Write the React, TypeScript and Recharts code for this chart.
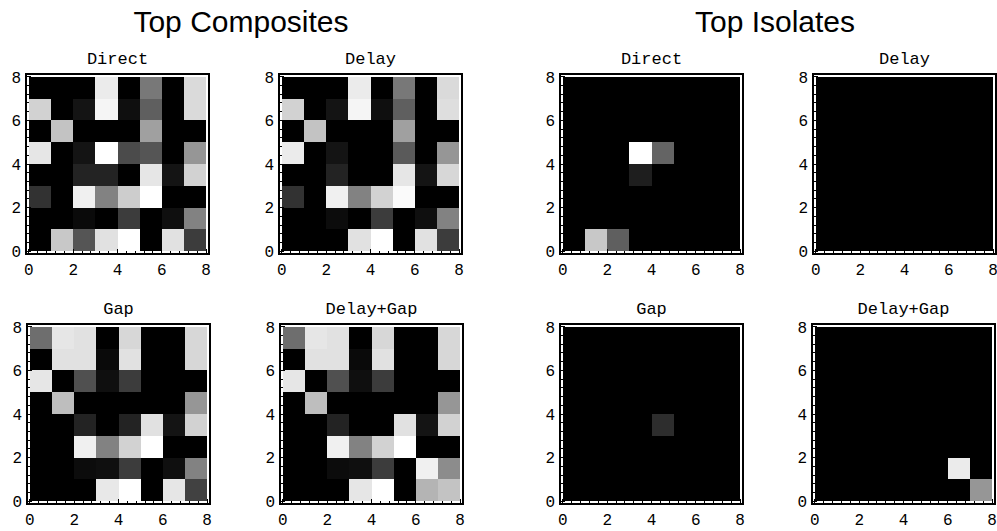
import React from 'react';
import { ScatterChart, Scatter, XAxis, YAxis, ReferenceArea, Label } from 'recharts';

// ---- data: grey levels (0 = black, 255 = white), rows listed from y=7 (top) to y=0 (bottom)
const compositeDirect: number[][] = [
  [0, 0, 0, 235, 0, 120, 0, 218],
  [210, 0, 20, 245, 15, 95, 0, 218],
  [0, 195, 0, 0, 0, 160, 0, 0],
  [230, 0, 20, 255, 75, 85, 0, 150],
  [0, 0, 35, 35, 0, 230, 20, 210],
  [50, 0, 240, 130, 205, 255, 0, 0],
  [0, 0, 10, 0, 60, 0, 15, 130],
  [0, 200, 85, 225, 255, 0, 225, 60],
];
const compositeDelay: number[][] = [
  [0, 0, 0, 235, 0, 120, 0, 218],
  [210, 0, 20, 245, 15, 95, 0, 222],
  [0, 195, 0, 0, 0, 160, 0, 0],
  [235, 0, 20, 0, 0, 90, 0, 150],
  [0, 0, 35, 0, 0, 230, 20, 215],
  [50, 0, 240, 130, 210, 250, 0, 0],
  [0, 0, 12, 0, 60, 0, 15, 130],
  [0, 0, 0, 225, 255, 0, 225, 60],
];
const compositeGap: number[][] = [
  [110, 230, 225, 0, 215, 0, 0, 215],
  [0, 225, 225, 10, 225, 0, 0, 215],
  [230, 0, 80, 15, 60, 0, 0, 0],
  [0, 190, 0, 0, 0, 0, 0, 150],
  [0, 0, 35, 0, 35, 225, 20, 210],
  [0, 0, 240, 130, 210, 255, 0, 0],
  [0, 0, 12, 15, 60, 0, 15, 130],
  [0, 0, 0, 232, 255, 0, 230, 65],
];
const compositeDelayGap: number[][] = [
  [110, 230, 225, 0, 215, 0, 0, 215],
  [0, 225, 225, 10, 225, 0, 0, 215],
  [230, 0, 80, 15, 60, 0, 0, 0],
  [0, 190, 0, 0, 0, 0, 0, 150],
  [0, 0, 35, 0, 0, 225, 20, 210],
  [0, 0, 240, 130, 210, 255, 0, 0],
  [0, 0, 12, 15, 60, 0, 240, 140],
  [0, 0, 0, 230, 255, 0, 180, 195],
];
const isolateDirect: number[][] = [
  [0, 0, 0, 0, 0, 0, 0, 0],
  [0, 0, 0, 0, 0, 0, 0, 0],
  [0, 0, 0, 0, 0, 0, 0, 0],
  [0, 0, 0, 255, 100, 0, 0, 0],
  [0, 0, 0, 30, 0, 0, 0, 0],
  [0, 0, 0, 0, 0, 0, 0, 0],
  [0, 0, 0, 0, 0, 0, 0, 0],
  [0, 200, 95, 0, 0, 0, 0, 0],
];
const isolateDelay: number[][] = [
  [0, 0, 0, 0, 0, 0, 0, 0],
  [0, 0, 0, 0, 0, 0, 0, 0],
  [0, 0, 0, 0, 0, 0, 0, 0],
  [0, 0, 0, 0, 0, 0, 0, 0],
  [0, 0, 0, 0, 0, 0, 0, 0],
  [0, 0, 0, 0, 0, 0, 0, 0],
  [0, 0, 0, 0, 0, 0, 0, 0],
  [0, 0, 0, 0, 0, 0, 0, 0],
];
const isolateGap: number[][] = [
  [0, 0, 0, 0, 0, 0, 0, 0],
  [0, 0, 0, 0, 0, 0, 0, 0],
  [0, 0, 0, 0, 0, 0, 0, 0],
  [0, 0, 0, 0, 0, 0, 0, 0],
  [0, 0, 0, 0, 45, 0, 0, 0],
  [0, 0, 0, 0, 0, 0, 0, 0],
  [0, 0, 0, 0, 0, 0, 0, 0],
  [0, 0, 0, 0, 0, 0, 0, 0],
];
const isolateDelayGap: number[][] = [
  [0, 0, 0, 0, 0, 0, 0, 0],
  [0, 0, 0, 0, 0, 0, 0, 0],
  [0, 0, 0, 0, 0, 0, 0, 0],
  [0, 0, 0, 0, 0, 0, 0, 0],
  [0, 0, 0, 0, 0, 0, 0, 0],
  [0, 0, 0, 0, 0, 0, 0, 0],
  [0, 0, 0, 0, 0, 0, 235, 0],
  [0, 0, 0, 0, 0, 0, 0, 150],
];

const panelTitles = ['Direct', 'Delay', 'Gap', 'Delay+Gap'];
const groupTitles = ['Top Composites', 'Top Isolates'];
const axisTicks = [0, 0.4, 0.8, 1.2, 1.6, 2, 2.4, 2.8, 3.2, 3.6, 4, 4.4, 4.8, 5.2, 5.6, 6, 6.4, 6.8, 7.2, 7.6, 8];
const majorTicks = [0, 2, 4, 6, 8];

// ---- layout
const DOMAIN: [number, number] = [-0.13, 8.13];
const ML = 30;
const MT = 34;
const PW = 183;
const PH = 180;
const MR = 14;
const MB = 32;
const MONO = '"Liberation Mono", "Courier New", monospace';

const panels = [
  { title: panelTitles[0], grid: compositeDirect, left: 26, top: 74 },
  { title: panelTitles[1], grid: compositeDelay, left: 279, top: 74 },
  { title: panelTitles[2], grid: compositeGap, left: 27, top: 324 },
  { title: panelTitles[3], grid: compositeDelayGap, left: 280, top: 324 },
  { title: panelTitles[0], grid: isolateDirect, left: 560, top: 74 },
  { title: panelTitles[1], grid: isolateDelay, left: 813, top: 74 },
  { title: panelTitles[2], grid: isolateGap, left: 560, top: 324 },
  { title: panelTitles[3], grid: isolateDelayGap, left: 812, top: 324 },
];

const isMajor = (v: number) => majorTicks.some((m) => Math.abs(m - v) < 1e-6);
const gray = (v: number) => `rgb(${v},${v},${v})`;

function BottomTick(props: any) {
  const { x, y, payload } = props;
  const v = payload.value;
  const ay = y - 8;
  const major = isMajor(v);
  return (
    <g>
      <line x1={x} x2={x} y1={ay} y2={ay - (major ? 5 : 3)} stroke="#000" strokeWidth={1} />
      {major && (
        <text x={x} y={ay + 10} dy="0.71em" textAnchor="middle" fill="#000" fontSize={16} fontFamily={MONO}>
          {v}
        </text>
      )}
    </g>
  );
}
function LeftTick(props: any) {
  const { x, y, payload } = props;
  const v = payload.value;
  const ax = x + 8;
  const major = isMajor(v);
  return (
    <g>
      <line x1={ax} x2={ax + (major ? 5 : 3)} y1={y} y2={y} stroke="#000" strokeWidth={1} />
      {major && (
        <text x={ax - 5} y={y} dy="0.36em" textAnchor="end" fill="#000" fontSize={16} fontFamily={MONO}>
          {v}
        </text>
      )}
    </g>
  );
}
function TopTick(props: any) {
  const { x, y, payload } = props;
  const ay = y + 8;
  const major = isMajor(payload.value);
  return <line x1={x} x2={x} y1={ay} y2={ay + (major ? 5 : 3)} stroke="#000" strokeWidth={1} />;
}
function RightTick(props: any) {
  const { x, y, payload } = props;
  const ax = x - 8;
  const major = isMajor(payload.value);
  return <line x1={ax} x2={ax - (major ? 5 : 3)} y1={y} y2={y} stroke="#000" strokeWidth={1} />;
}

function Panel({ title, grid, left, top }: { title: string; grid: number[][]; left: number; top: number }) {
  const anchor = [{ x: 4, y: 4 }];
  return (
    <div style={{ position: 'absolute', left: left - ML, top: top - MT, shapeRendering: 'crispEdges' } as any}>
      <ScatterChart width={ML + PW + MR} height={MT + PH + MB} margin={{ top: MT, right: MR, bottom: 0, left: 0 }}>
        <XAxis type="number" dataKey="x" domain={DOMAIN} ticks={axisTicks} interval={0} height={MB}
          tick={<BottomTick />} tickLine={false} axisLine={false} tickSize={6} tickMargin={2} allowDataOverflow />
        <XAxis xAxisId="t" orientation="top" type="number" dataKey="x" domain={DOMAIN} ticks={axisTicks} interval={0} height={0}
          tick={<TopTick />} tickLine={false} axisLine={false} tickSize={6} tickMargin={2} allowDataOverflow />
        <YAxis type="number" dataKey="y" domain={DOMAIN} ticks={axisTicks} interval={0} width={ML}
          tick={<LeftTick />} tickLine={false} axisLine={false} tickSize={6} tickMargin={2} allowDataOverflow />
        <YAxis yAxisId="r" orientation="right" type="number" dataKey="y" domain={DOMAIN} ticks={axisTicks} interval={0} width={0}
          tick={<RightTick />} tickLine={false} axisLine={false} tickSize={6} tickMargin={2} allowDataOverflow />
        {grid.map((row, r) =>
          row.map((v, c) => (
            <ReferenceArea key={`${r}-${c}`} x1={c} x2={c + 1} y1={7 - r} y2={8 - r}
              fill={gray(v)} fillOpacity={1} stroke="none" ifOverflow="visible" />
          ))
        )}
        <ReferenceArea x1={DOMAIN[0]} x2={DOMAIN[1]} y1={DOMAIN[0]} y2={DOMAIN[1]} fill="none" stroke="#000"
          strokeWidth={2} ifOverflow="visible">
          <Label value={title} position="top" offset={10} fill="#000" fontSize={17} fontFamily={MONO} />
        </ReferenceArea>
        <Scatter data={anchor} dataKey="y" shape={() => <g />} isAnimationActive={false} />
      </ScatterChart>
    </div>
  );
}

export default function App() {
  const titleStyle = (center: number): React.CSSProperties => ({
    position: 'absolute', left: center - 200, top: 7, width: 400, textAlign: 'center',
    fontFamily: '"Liberation Sans", Arial, Helvetica, sans-serif', fontSize: 30, lineHeight: '30px', color: '#000',
  });
  return (
    <div style={{ position: 'absolute', left: 0, top: 0, width: 997, height: 531, overflow: 'hidden', background: '#fff' }}>
      <div style={titleStyle(241)}>{groupTitles[0]}</div>
      <div style={titleStyle(775)}>{groupTitles[1]}</div>
      {panels.map((p, i) => (
        <Panel key={i} {...p} />
      ))}
    </div>
  );
}
